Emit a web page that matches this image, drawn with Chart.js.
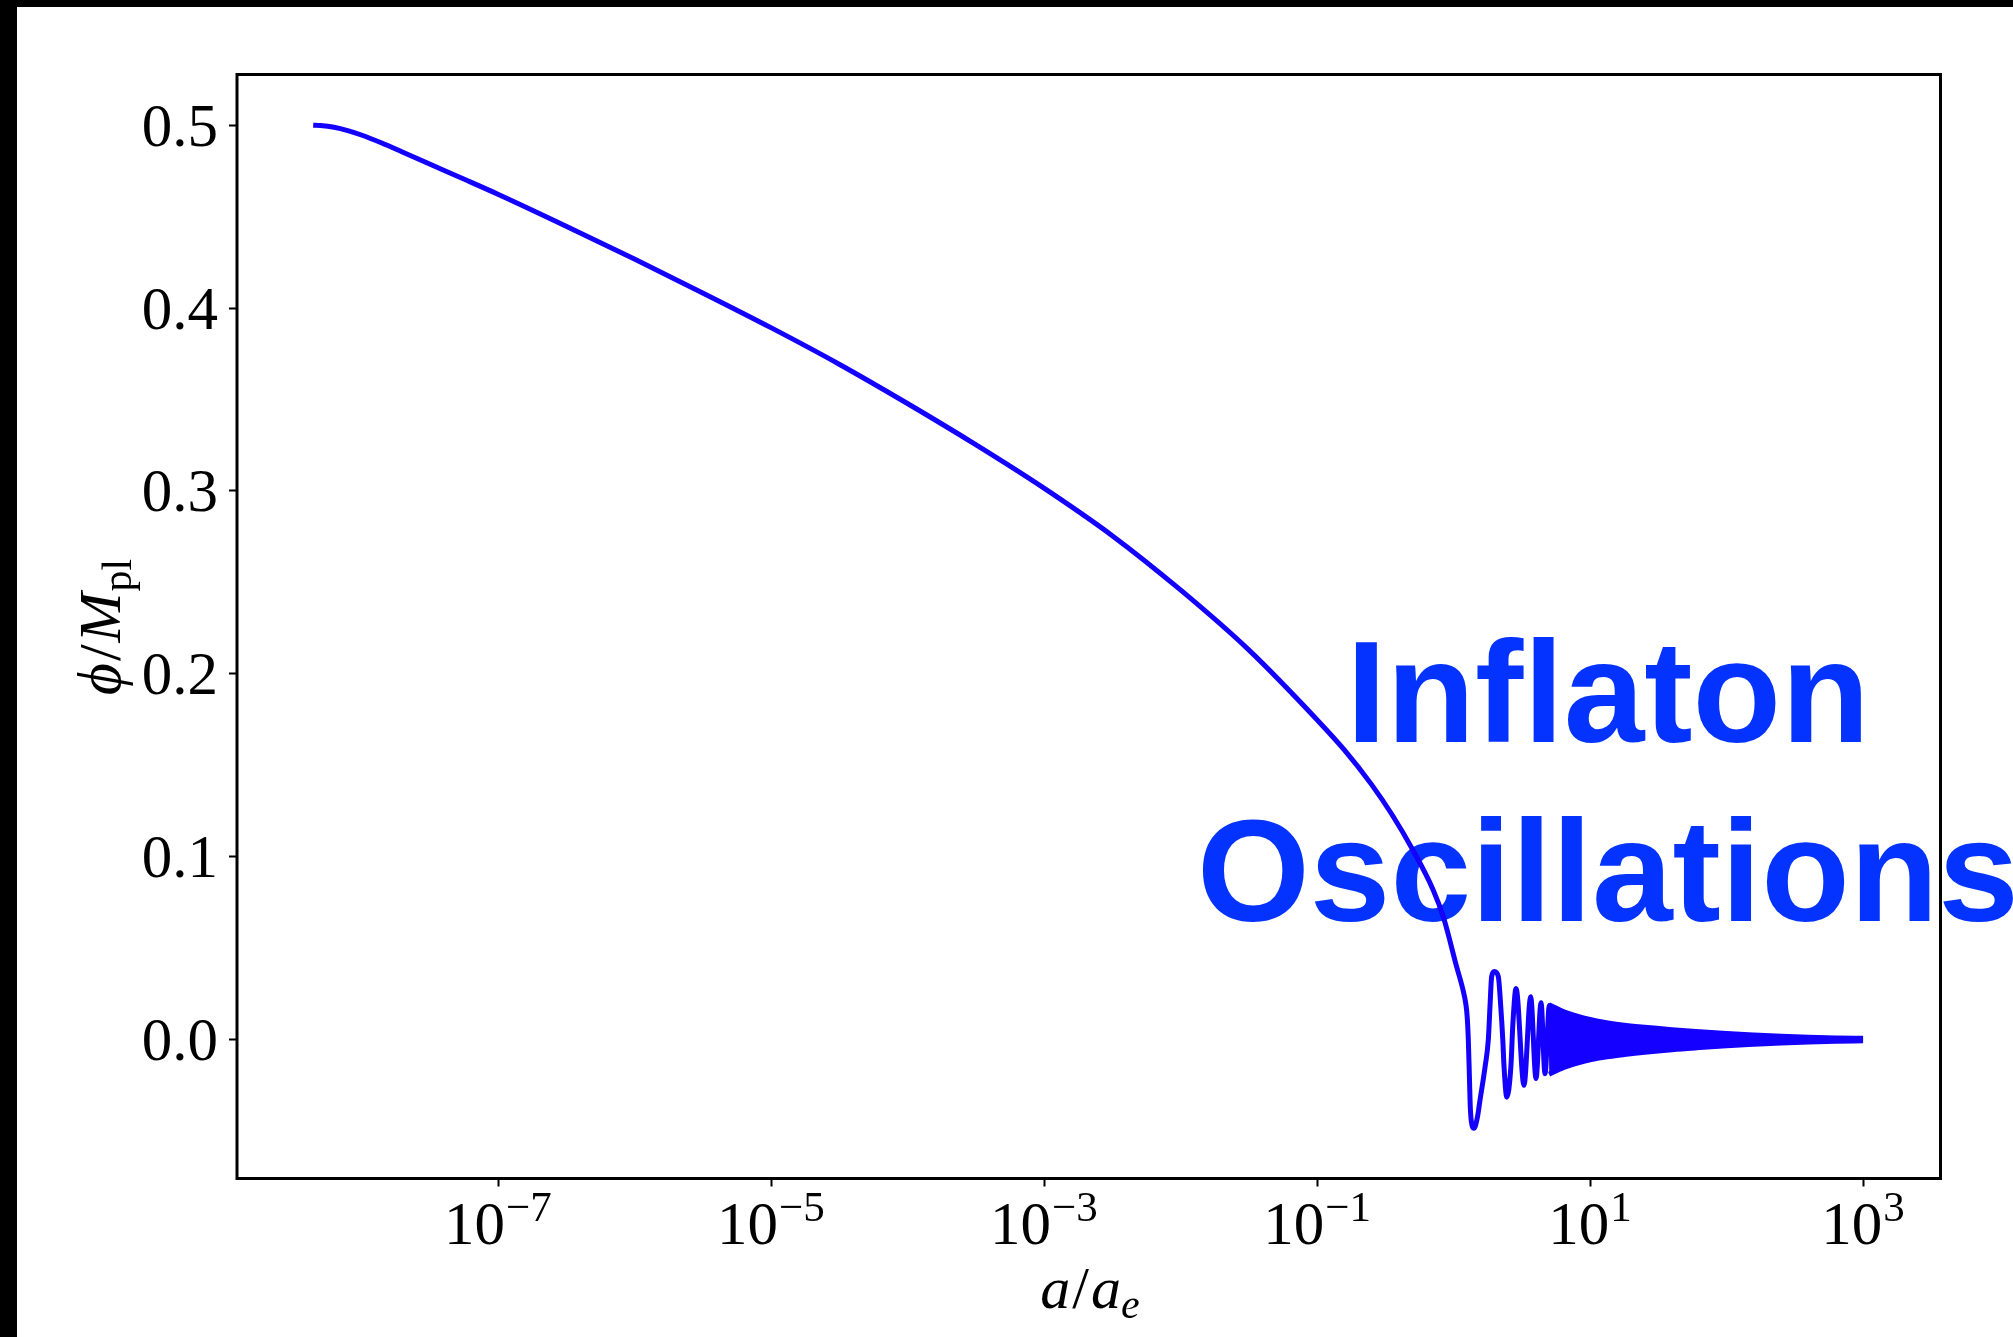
<!DOCTYPE html>
<html>
<head>
<meta charset="utf-8">
<script src="https://cdn.jsdelivr.net/npm/chart.js@4.4.1/dist/chart.umd.min.js"></script>
<style>
  html, body { margin: 0; padding: 0; background: #000; }
  #sheet { position: absolute; left: 17px; top: 7px; width: 1996px; height: 1330px; background: #fff; }
  canvas { display: block; }
</style>
</head>
<body>
<div id="sheet"><canvas id="chart" width="1996" height="1330"></canvas></div>
<script>
// phi/Mpl against log10(a/a_e)
const logA = [-8.353, -8.30, -8.20, -8.10, -8.00, -7.85, -7.70, -7.50, -7.25, -7.00, -6.50, -6.00, -5.50, -5.00, -4.50,
              -4.00, -3.50, -3.00, -2.50, -2.00, -1.50, -1.00, -0.80, -0.60, -0.45, -0.30, -0.15, -0.075, 0.023, 0.070, 0.090,
              0.100, 0.108, 0.116, 0.122, 0.130, 0.150, 0.175, 0.194, 0.231, 0.255, 0.267, 0.279, 0.299, 0.328, 0.346, 0.361, 0.370,
              0.390, 0.420, 0.435, 0.458, 0.516, 0.565, 0.604, 0.641, 0.670, 0.702, 0.727, 0.751];
const phi  = [0.4998, 0.4996, 0.4986, 0.4968, 0.4944, 0.4900, 0.4851, 0.4785, 0.4703, 0.4620, 0.4445, 0.4265, 0.4080, 0.3890, 0.3690,
              0.3475, 0.3250, 0.3012, 0.2752, 0.2455, 0.2127, 0.1745, 0.1580, 0.1390, 0.1225, 0.1035, 0.0815, 0.0667, 0.0393, 0.0265, 0.0190,
              0.0120, 0.0000, -0.0200, -0.0360, -0.0450, -0.0490, -0.0430, -0.0336, -0.0154, -0.0004, 0.0175, 0.0339, 0.0367, 0.0339, 0.0175, -0.0008, -0.0154,
              -0.0320, -0.0154, 0.0085, 0.0275, -0.0255, 0.0230, -0.0218, 0.0196, -0.0192, 0.0182, -0.0175, 0.0170];

// fast oscillations: upper / lower edge of the blue band
const bandLogA  = [0.70, 0.80, 0.90, 1.00, 1.10, 1.25, 1.40, 1.60, 1.80, 2.00, 2.20, 2.40, 2.60, 2.80, 3.00];
const bandUpper = [0.0185, 0.0150, 0.0125, 0.0105, 0.0090, 0.0074, 0.0062, 0.0049, 0.0038, 0.0028, 0.0020, 0.0013, 0.0008, 0.0004, 0.0002];
const bandLower = [-0.0195, -0.0160, -0.0135, -0.0115, -0.0102, -0.0087, -0.0074, -0.0060, -0.0049, -0.0039, -0.0031, -0.0024, -0.0018, -0.0014, -0.0012];

const xTickExps = [-7, -5, -3, -1, 1, 3];
const yTicks = [0.0, 0.1, 0.2, 0.3, 0.4, 0.5];

const LINE = '#1400ff';
const TEXT_BLUE = '#0433ff';
const SERIF = '"Liberation Serif", "DejaVu Serif", serif';

const pts = (xs, ys) => xs.map((e, i) => ({ x: Math.pow(10, e), y: ys[i] }));

// draw a list of text runs on one baseline, centred on x
function drawRuns(ctx, runs, x, y) {
    let w = 0;
    runs.forEach(r => { ctx.font = r.font; r.w = ctx.measureText(r.t).width; w += r.w + (r.gap || 0); });
    let cx = x - w / 2;
    runs.forEach(r => {
        ctx.font = r.font;
        ctx.fillText(r.t, cx, y + (r.dy || 0));
        cx += r.w + (r.gap || 0);
    });
}

const overlayText = {
    id: 'overlayText',
    beforeDatasetsDraw(chart) {
        const ctx = chart.ctx;
        ctx.save();
        ctx.fillStyle = TEXT_BLUE;
        ctx.textAlign = 'center';
        ctx.textBaseline = 'alphabetic';
        ctx.font = 'bold 145px "Liberation Sans", Arial, sans-serif';
        ctx.fillText('Inflaton', 1591, 735);
        ctx.fillText('Oscillations', 1591, 914);
        ctx.restore();
    }
};

const frameAndLabels = {
    id: 'frameAndLabels',
    afterDraw(chart) {
        const ctx = chart.ctx;
        const a = chart.chartArea;
        const xs = chart.scales.x, ys = chart.scales.y;
        ctx.save();
        ctx.strokeStyle = '#000';
        ctx.fillStyle = '#000';

        // ticks
        ctx.lineWidth = 2;
        ctx.beginPath();
        yTicks.forEach(v => {
            const py = Math.round(ys.getPixelForValue(v)) + 0.5;
            ctx.moveTo(a.left - 8, py); ctx.lineTo(a.left, py);
        });
        xTickExps.forEach(e => {
            const px = Math.round(xs.getPixelForValue(Math.pow(10, e))) + 0.5;
            ctx.moveTo(px, a.bottom); ctx.lineTo(px, a.bottom + 8);
        });
        ctx.stroke();

        // frame
        ctx.lineWidth = 3;
        ctx.strokeRect(a.left, a.top, a.right - a.left, a.bottom - a.top);

        // y tick labels
        ctx.textBaseline = 'alphabetic';
        ctx.textAlign = 'right';
        ctx.font = '61px ' + SERIF;
        yTicks.forEach(v => {
            ctx.fillText(v.toFixed(1), a.left - 19, ys.getPixelForValue(v) + 21);
        });

        // x tick labels 10^n
        ctx.textAlign = 'left';
        xTickExps.forEach(e => {
            const px = xs.getPixelForValue(Math.pow(10, e));
            const exp = (e < 0 ? '\u2212' : '') + Math.abs(e);
            drawRuns(ctx, [
                { t: '10', font: '61px ' + SERIF, gap: 1 },
                { t: exp, font: '43px ' + SERIF, dy: -23 }
            ], px, a.bottom + 65);
        });

        // x title a/a_e
        drawRuns(ctx, [
            { t: 'a', font: 'italic 60px ' + SERIF, gap: 2 },
            { t: '/', font: '60px ' + SERIF, gap: 2 },
            { t: 'a', font: 'italic 60px ' + SERIF },
            { t: 'e', font: 'italic 42px ' + SERIF, dy: 10 }
        ], 1073, 1301);

        // y title phi/M_pl
        ctx.translate(103, 620);
        ctx.rotate(-Math.PI / 2);
        drawRuns(ctx, [
            { t: '\u03D5', font: 'italic 62px ' + SERIF, gap: 2 },
            { t: '/', font: '60px ' + SERIF, gap: 2 },
            { t: 'M', font: 'italic 60px ' + SERIF, gap: 1 },
            { t: 'pl', font: '42px ' + SERIF, dy: 11 }
        ], 0, 0);
        ctx.restore();
    }
};

new Chart(document.getElementById('chart'), {
    type: 'line',
    data: {
        datasets: [
            { data: pts(logA, phi), borderColor: LINE, borderWidth: 5, pointRadius: 0,
              cubicInterpolationMode: 'monotone', fill: false },
            { data: pts(bandLogA, bandUpper), borderColor: LINE, borderWidth: 5, pointRadius: 0,
              cubicInterpolationMode: 'monotone', fill: false },
            { data: pts(bandLogA, bandLower), borderColor: LINE, borderWidth: 5, pointRadius: 0,
              cubicInterpolationMode: 'monotone', fill: '-1', backgroundColor: LINE }
        ]
    },
    options: {
        responsive: false,
        animation: false,
        events: [],
        layout: { padding: { top: 67.5, right: 72.5, left: 0, bottom: 0 } },
        plugins: { legend: { display: false }, tooltip: { enabled: false } },
        scales: {
            x: {
                type: 'logarithmic',
                min: Math.pow(10, -8.911), max: Math.pow(10, 3.567),
                ticks: { display: false }, grid: { display: false }, border: { display: false },
                afterFit: s => { s.height = 158.5; }
            },
            y: {
                type: 'linear',
                min: -0.0765, max: 0.5275,
                ticks: { display: false }, grid: { display: false }, border: { display: false },
                afterFit: s => { s.width = 220; }
            }
        }
    },
    plugins: [overlayText, frameAndLabels]
});
</script>
</body>
</html>
